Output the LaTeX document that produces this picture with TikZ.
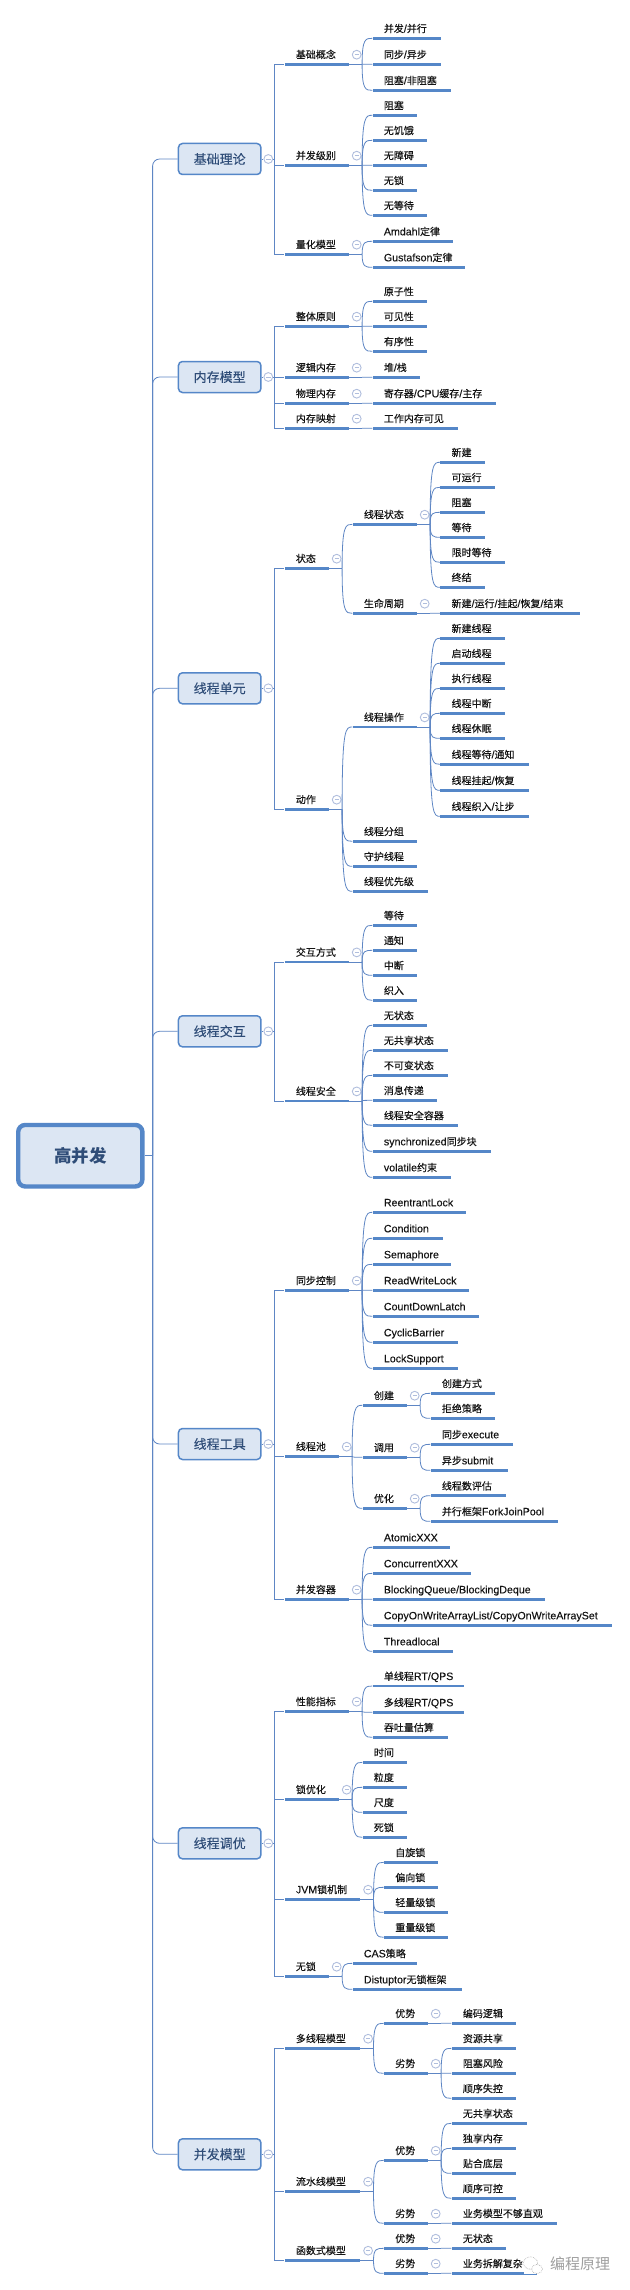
\documentclass[tikz,border=0pt]{standalone}
\usepackage{fontspec}
\usetikzlibrary{calc}
\newfontfamily\cjk[FakeBold=0.2]{Noto Sans CJK SC}
\newfontfamily\cjkplain{Noto Sans CJK SC}
\newfontfamily\lat[Scale=1.065,FakeBold=0.15]{Liberation Sans}
\newcommand{\en}[1]{{\lat #1}}
\definecolor{mmline}{HTML}{5E86C4}
\definecolor{mmbar}{HTML}{5587C8}
\definecolor{mmfill}{HTML}{DCE6F3}
\definecolor{mmtext}{HTML}{2F4D78}
\definecolor{mmfold}{HTML}{B0BEDD}
\definecolor{mmink}{HTML}{141414}
\tikzset{
  link/.style={draw=mmline,line width=0.8pt},
  barbox/.style={fill=mmbar,inner sep=0pt,minimum height=2.7pt,anchor=west},
  toptext/.style={inner sep=0pt,anchor=base west,text=mmink,font=\fontsize{10}{12}\cjk},
  foldmark/.style={circle,draw=mmfold,line width=0.9pt,fill=white,inner sep=0pt,minimum size=8.8pt,
    path picture={\draw[mmfold,line width=0.9pt] ([xshift=-2.2pt]path picture bounding box.center) -- ([xshift=2.2pt]path picture bounding box.center);}},
  mainbox/.style={draw=mmbar,fill=mmfill,line width=1.5pt,rounded corners=4pt,minimum width=82.5pt,minimum height=31pt,inner sep=0pt,text=mmtext,font=\fontsize{13}{15}\cjk},
  rootbox/.style={draw=mmbar,fill=mmfill,line width=4.4pt,rounded corners=7pt,minimum width=124.2pt,minimum height=61.5pt,inner sep=0pt,text=mmtext,font=\fontsize{17.5}{20}\cjkplain\bfseries}
}
% topic: name, x1, x2, y, text
\newcommand{\tp}[5]{%
  \pgfmathsetlengthmacro{\tpw}{(#3-#2)*1pt}%
  \node[barbox,minimum width=\tpw] (#1) at (#2,#4) {};
  \pgfmathsetmacro{\tpx}{#2+11.4}\pgfmathsetmacro{\tpy}{#4-6}%
  \node[toptext] (#1-t) at (\tpx,\tpy) {#5};
}
% fold mark and junction after a topic
\newcommand{\pa}[1]{%
  \coordinate (#1-e) at (#1.east);
  \node[foldmark] (#1-f) at ($(#1-e)+(8,-9.6)$) {};
  \coordinate (#1-j) at ($(#1-e)+(13.4,0)$);
  \draw[link] (#1.east) -- (#1-j);
}
% child of a topic
\newcommand{\kid}[6]{%
  \tp{#2}{#3}{#4}{#5}{#6}
  \draw[link] (#1-j) .. controls (#1-j |- #2.west) and ($(#1-j |- #2.west)!.35!(#2.west)$) .. (#2.west);
}
% main box: name, y, text
\newcommand{\mainb}[3]{%
  \node[mainbox] (#1) at (219.7,#2) {#3};
  \node[foldmark] (#1-f) at (268.3,#2) {};
  \coordinate (#1-v) at (274.3,#2);
  \draw[link] (#1.east) -- (#1-f);
  \draw[link] (#1-f) -- (#1-v);
  \draw[link,rounded corners=7pt] (trunk) |- (#1.west);
}
% first-level topic of a main box
\newcommand{\sub}[6]{%
  \tp{#2}{#3}{#4}{#5}{#6}
  \draw[link,line width=1pt] (#1-v) |- (#2.west);
}
\begin{document}
\begin{tikzpicture}[x=1pt,y=-1pt]
\useasboundingbox (0,0) rectangle (629,2290);
\fill[white] (0,0) rectangle (629,2290);
\node[rootbox] (root) at (80.3,1155.7) {高并发};
\coordinate (trunk) at (152.6,1155.7);
\draw[link] (root.east) -- (trunk);

% ---------- 基础理论
\mainb{b1}{159}{基础理论}
\sub{b1}{a}{284.3}{348.3}{64.3}{基础概念}\pa{a}
\kid{a}{a1}{372.3}{440.3}{38.3}{并发\en{/}并行}
\kid{a}{a2}{372.3}{440.3}{64.3}{同步\en{/}异步}
\kid{a}{a3}{372.3}{450.3}{90.3}{阻塞\en{/}非阻塞}
\sub{b1}{c}{284.3}{348.3}{165.3}{并发级别}\pa{c}
\kid{c}{c1}{372.3}{416.3}{115.3}{阻塞}
\kid{c}{c2}{372.3}{426.3}{140.3}{无饥饿}
\kid{c}{c3}{372.3}{426.3}{165.3}{无障碍}
\kid{c}{c4}{372.3}{416.3}{190.3}{无锁}
\kid{c}{c5}{372.3}{426.3}{215.3}{无等待}
\sub{b1}{d}{284.3}{348.3}{254.3}{量化模型}\pa{d}
\kid{d}{d1}{372.3}{452.3}{241.3}{\en{Amdahl}定律}
\kid{d}{d2}{372.3}{465}{267.3}{\en{Gustafson}定律}

% ---------- 内存模型
\mainb{b2}{377}{内存模型}
\sub{b2}{e}{284.3}{348.3}{326.3}{整体原则}\pa{e}
\kid{e}{e1}{372.3}{426.3}{301.3}{原子性}
\kid{e}{e2}{372.3}{426.3}{326.3}{可见性}
\kid{e}{e3}{372.3}{426.3}{351.3}{有序性}
\sub{b2}{f}{284.3}{348.3}{377.3}{逻辑内存}\pa{f}
\kid{f}{f1}{372.3}{419.3}{377.3}{堆\en{/}栈}
\sub{b2}{g}{284.3}{348.3}{403.3}{物理内存}\pa{g}
\kid{g}{g1}{372.3}{495.3}{403.3}{寄存器\en{/CPU}缓存\en{/}主存}
\sub{b2}{h}{284.3}{348.3}{428.3}{内存映射}\pa{h}
\kid{h}{h1}{372.3}{457.3}{428.3}{工作内存可见}

% ---------- 线程单元
\mainb{b3}{688.3}{线程单元}
\sub{b3}{i}{284.3}{328.3}{568.3}{状态}\pa{i}
\kid{i}{i1}{352.3}{416.3}{524.3}{线程状态}\pa{i1}
\kid{i1}{i11}{440}{484.3}{462.3}{新建}
\kid{i1}{i12}{440}{494.3}{487.3}{可运行}
\kid{i1}{i13}{440}{484.3}{512.3}{阻塞}
\kid{i1}{i14}{440}{484.3}{537.3}{等待}
\kid{i1}{i15}{440}{504.3}{562.3}{限时等待}
\kid{i1}{i16}{440}{484.3}{587.3}{终结}
\kid{i}{i2}{352.3}{416.3}{613.3}{生命周期}\pa{i2}
\kid{i2}{i21}{440}{579.3}{613.3}{新建\en{/}运行\en{/}挂起\en{/}恢复\en{/}结束}
\sub{b3}{j}{284.3}{328.3}{809.3}{动作}\pa{j}
\kid{j}{j1}{352.3}{416.3}{727}{线程操作}\pa{j1}
\kid{j1}{j11}{440}{504.3}{638.3}{新建线程}
\kid{j1}{j12}{440}{504.3}{663.3}{启动线程}
\kid{j1}{j13}{440}{504.3}{688.3}{执行线程}
\kid{j1}{j14}{440}{504.3}{713.3}{线程中断}
\kid{j1}{j15}{440}{504.3}{738.3}{线程休眠}
\kid{j1}{j16}{440}{528.3}{764.3}{线程等待\en{/}通知}
\kid{j1}{j17}{440}{528.3}{790.3}{线程挂起\en{/}恢复}
\kid{j1}{j18}{440}{528.3}{816.3}{线程织入\en{/}让步}
\kid{j}{j2}{352.3}{416.3}{841.3}{线程分组}
\kid{j}{j3}{352.3}{416.3}{866.3}{守护线程}
\kid{j}{j4}{352.3}{427.3}{891.3}{线程优先级}

% ---------- 线程交互
\mainb{b4}{1031.3}{线程交互}
\sub{b4}{k}{284.3}{348.3}{962}{交互方式}\pa{k}
\kid{k}{k1}{372.3}{416.3}{925.3}{等待}
\kid{k}{k2}{372.3}{416.3}{950.3}{通知}
\kid{k}{k3}{372.3}{416.3}{975.3}{中断}
\kid{k}{k4}{372.3}{416.3}{1000.3}{织入}
\sub{b4}{l}{284.3}{348.3}{1101}{线程安全}\pa{l}
\kid{l}{l1}{372.3}{426.3}{1025.3}{无状态}
\kid{l}{l2}{372.3}{447.3}{1050.3}{无共享状态}
\kid{l}{l3}{372.3}{447.3}{1075.3}{不可变状态}
\kid{l}{l4}{372.3}{436.3}{1100.3}{消息传递}
\kid{l}{l5}{372.3}{457.3}{1125.3}{线程安全容器}
\kid{l}{l6}{372.3}{490.3}{1151.3}{\en{synchronized}同步块}
\kid{l}{l7}{372.3}{450.3}{1177.3}{\en{volatile}约束}

% ---------- 线程工具
\mainb{b5}{1444}{线程工具}
\sub{b5}{m}{284.3}{348.3}{1290.3}{同步控制}\pa{m}
\kid{m}{m1}{372.3}{465.3}{1212.3}{\en{ReentrantLock}}
\kid{m}{m2}{372.3}{442.3}{1238.3}{\en{Condition}}
\kid{m}{m3}{372.3}{450.3}{1264.3}{\en{Semaphore}}
\kid{m}{m4}{372.3}{468.3}{1290.3}{\en{ReadWriteLock}}
\kid{m}{m5}{372.3}{478.3}{1316.3}{\en{CountDownLatch}}
\kid{m}{m6}{372.3}{457.3}{1342.3}{\en{CyclicBarrier}}
\kid{m}{m7}{372.3}{457.3}{1368.3}{\en{LockSupport}}
\sub{b5}{n}{284.3}{338.3}{1456.3}{线程池}\pa{n}
\kid{n}{n1}{362.3}{406.3}{1405.3}{创建}\pa{n1}
\kid{n1}{n11}{430.3}{494.3}{1393.3}{创建方式}
\kid{n1}{n12}{430.3}{494.3}{1418.3}{拒绝策略}
\kid{n}{n2}{362.3}{406.3}{1457.3}{调用}\pa{n2}
\kid{n2}{n21}{430.3}{512.3}{1444.3}{同步\en{execute}}
\kid{n2}{n22}{430.3}{507.3}{1470.3}{异步\en{submit}}
\kid{n}{n3}{362.3}{406.3}{1508.3}{优化}\pa{n3}
\kid{n3}{n31}{430.3}{505.3}{1495.7}{线程数评估}
\kid{n3}{n32}{430.3}{557.3}{1521.3}{并行框架\en{ForkJoinPool}}
\sub{b5}{o}{284.3}{348.3}{1599.3}{并发容器}\pa{o}
\kid{o}{o1}{372.3}{449.3}{1547.3}{\en{AtomicXXX}}
\kid{o}{o2}{372.3}{470.3}{1573.3}{\en{ConcurrentXXX}}
\kid{o}{o3}{372.3}{544.3}{1599.3}{\en{BlockingQueue/BlockingDeque}}
\kid{o}{o4}{372.3}{611.3}{1625.3}{\en{CopyOnWriteArrayList/CopyOnWriteArraySet}}
\kid{o}{o5}{372.3}{452.3}{1651.3}{\en{Threadlocal}}

% ---------- 线程调优
\mainb{b6}{1843.3}{线程调优}
\sub{b6}{p}{284.3}{348.3}{1711.3}{性能指标}\pa{p}
\kid{p}{p1}{372.3}{463.3}{1686}{单线程\en{RT/QPS}}
\kid{p}{p2}{372.3}{463.3}{1712.3}{多线程\en{RT/QPS}}
\kid{p}{p3}{372.3}{447.3}{1737.3}{吞吐量估算}
\sub{b6}{q}{284.3}{338.3}{1799.3}{锁优化}\pa{q}
\kid{q}{q1}{362.3}{406.3}{1762.3}{时间}
\kid{q}{q2}{362.3}{406.3}{1787.3}{粒度}
\kid{q}{q3}{362.3}{406.3}{1812.3}{尺度}
\kid{q}{q4}{362.3}{406.3}{1837.3}{死锁}
\sub{b6}{s}{284.3}{359.7}{1899.3}{\en{JVM}锁机制}\pa{s}
\kid{s}{s1}{383.7}{437.3}{1862.3}{自旋锁}
\kid{s}{s2}{383.7}{437.3}{1887.3}{偏向锁}
\kid{s}{s3}{383.7}{447.3}{1912.3}{轻量级锁}
\kid{s}{s4}{383.7}{447.3}{1937.3}{重量级锁}
\sub{b6}{u}{284.3}{328.3}{1976.3}{无锁}\pa{u}
\kid{u}{u1}{352.3}{416.3}{1963.3}{\en{CAS}策略}
\kid{u}{u2}{352.3}{461.3}{1989.3}{\en{Distuptor}无锁框架}

% ---------- 并发模型
\mainb{b7}{2154.3}{并发模型}
\sub{b7}{w}{284.3}{359.7}{2048.3}{多线程模型}\pa{w}
\kid{w}{w1}{383.7}{427.3}{2023.3}{优势}\pa{w1}
\kid{w1}{w11}{451.3}{515.3}{2023.3}{编码逻辑}
\kid{w}{w2}{383.7}{427.3}{2073.3}{劣势}\pa{w2}
\kid{w2}{w21}{451.3}{515.3}{2048.3}{资源共享}
\kid{w2}{w22}{451.3}{515.3}{2073.3}{阻塞风险}
\kid{w2}{w23}{451.3}{515.3}{2098.3}{顺序失控}
\sub{b7}{x}{284.3}{359.7}{2191.3}{流水线模型}\pa{x}
\kid{x}{x1}{383.7}{427.3}{2160.3}{优势}\pa{x1}
\kid{x1}{x11}{451.3}{526.3}{2123.3}{无共享状态}
\kid{x1}{x12}{451.3}{515.3}{2148.3}{独享内存}
\kid{x1}{x13}{451.3}{515.3}{2173.3}{贴合底层}
\kid{x1}{x14}{451.3}{515.3}{2198.3}{顺序可控}
\kid{x}{x2}{383.7}{427.3}{2223.3}{劣势}\pa{x2}
\kid{x2}{x21}{451.3}{556.3}{2223.3}{业务模型不够直观}
\sub{b7}{y}{284.3}{359.7}{2260.3}{函数式模型}\pa{y}
\kid{y}{y1}{383.7}{427.3}{2248.3}{优势}\pa{y1}
\kid{y1}{y11}{451.3}{505.3}{2248.3}{无状态}
\kid{y}{y2}{383.7}{427.3}{2273.3}{劣势}\pa{y2}
\kid{y2}{y21}{451.3}{536.7}{2273.3}{业务拆解复杂}

% ---------- watermark
\fill[white] (524,2259) rectangle (545,2274);
\draw[gray!70,line width=0.6pt,densely dotted,fill=white] (530.5,2263) ellipse (7 and 6.2);
\draw[gray!70,line width=0.6pt,densely dotted,fill=white] (537,2269) ellipse (5.5 and 4.6);
\node[inner sep=0pt,anchor=center,text=gray!75,font=\fontsize{15}{17}\cjkplain] (wm) at (580,2263.3) {编程原理};
\end{tikzpicture}
\end{document}
